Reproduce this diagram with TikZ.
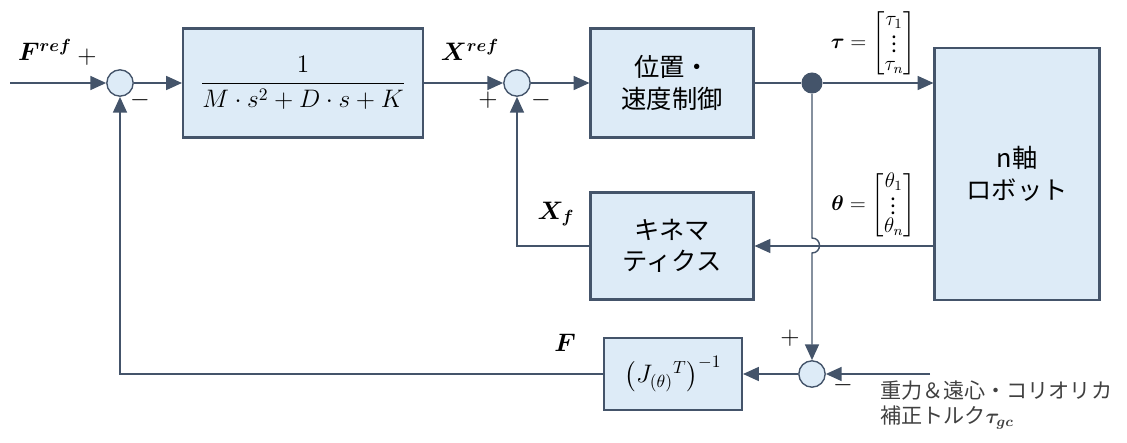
\documentclass[tikz,border=0pt]{standalone}
\usepackage{amsmath}
\usepackage{amssymb}
\usepackage{bm}
\usepackage{fontspec}
\setmainfont{Noto Sans CJK JP}
\usepackage{tikz}
\usetikzlibrary{arrows.meta,positioning,calc}
\definecolor{blockfill}{HTML}{DDEBF7}
\definecolor{edge}{HTML}{44546A}
\tikzset{>={Triangle[length=9pt,width=8pt]},
    block/.style={draw=edge,fill=blockfill,line width=1.2pt,font=\Large,align=center,inner sep=0pt},
    sum/.style={circle,draw=edge,fill=blockfill,line width=0.8pt,minimum size=15pt,inner sep=0pt},
    line/.style={draw=edge,line width=0.8pt},
    lbl/.style={font=\Large},
    vec/.style={font=\large,anchor=south east,inner sep=1pt}}

\begin{document}
\begin{tikzpicture}[x=0.02cm,y=-0.02cm]
        \useasboundingbox (0,0) rectangle (1127,443);
        % blocks
        \node[block,minimum width=240*0.02cm,minimum height=109*0.02cm] (imp) at (303,83)
            {$\dfrac{1}{M\cdot s^2+D\cdot s+K}$};
        \node[block,minimum width=163*0.02cm,minimum height=109*0.02cm] (ctrl) at (672,83) {位置・\\速度制御};
        \node[block,minimum width=165*0.02cm,minimum height=252*0.02cm] (robot) at (1017,174) {n軸\\ロボット};
        \node[block,minimum width=163*0.02cm,minimum height=107*0.02cm] (kin) at (672,246) {キネマ\\ティクス};
        \node[block,minimum width=138*0.02cm,minimum height=72*0.02cm] (jac) at (673,374)
            {$\left(J_{(\theta)}{}^{T}\right)^{-1}$};
        % summing points
        \node[sum] (s1) at (120,83) {};
        \node[sum] (s2) at (517,83) {};
        \node[sum] (s3) at (812,374) {};
        \node[circle,fill=edge,minimum size=12pt,inner sep=0pt] (dot) at (812,83) {};
        \coordinate (in) at (10,83);
        \coordinate (grav) at (930,374);
        % connectors
        \draw[line,->] (in) -- (s1);
        \draw[line,->] (s1) -- (imp);
        \draw[line,->] (imp) -- (s2);
        \draw[line,->] (s2) -- (ctrl);
        \draw[line] (ctrl) -- (dot);
        \draw[line,->] (dot) -- (dot -| robot.west);
        \draw[line,->] (robot.west |- kin) -- (kin);
        \draw[line,->] (dot) -- (812,238) .. controls (822,238) and (822,253) .. (812,253) -- (s3);
        \draw[line,->] (grav) -- (s3);
        \draw[line,->] (s3) -- (jac);
        \draw[line,->] (jac) -| (s1);
        \draw[line,->] (kin) -| (s2);
        % labels
        \node[lbl] at (45,50) {$\bm{F^{ref}}$};
        \node[lbl] at (87,57) {$+$};
        \node[lbl] at (140,100) {$-$};
        \node[lbl] at (470,50) {$\bm{X^{ref}}$};
        \node[lbl] at (488,100) {$+$};
        \node[lbl] at (541,100) {$-$};
        \node[vec] at (918,80) {$\bm{\tau}=\begin{bmatrix}\tau_1\\[-4pt] \vdots\\[-4pt] \tau_n\end{bmatrix}$};
        \node[vec] at (918,242) {$\bm{\theta}=\begin{bmatrix}\theta_1\\[-4pt] \vdots\\[-4pt] \theta_n\end{bmatrix}$};
        \node[lbl] at (556,214) {$\bm{X_f}$};
        \node[lbl] at (565,343) {$\bm{F}$};
        \node[lbl] at (790,338) {$+$};
        \node[lbl] at (843,385) {$-$};
        \node[font=\large,anchor=west,align=left,text=black!75] at (874,405)
            {重力＆遠心・コリオリカ\\補正トルク$\bm{\tau_{gc}}$};
\end{tikzpicture}
\end{document}
